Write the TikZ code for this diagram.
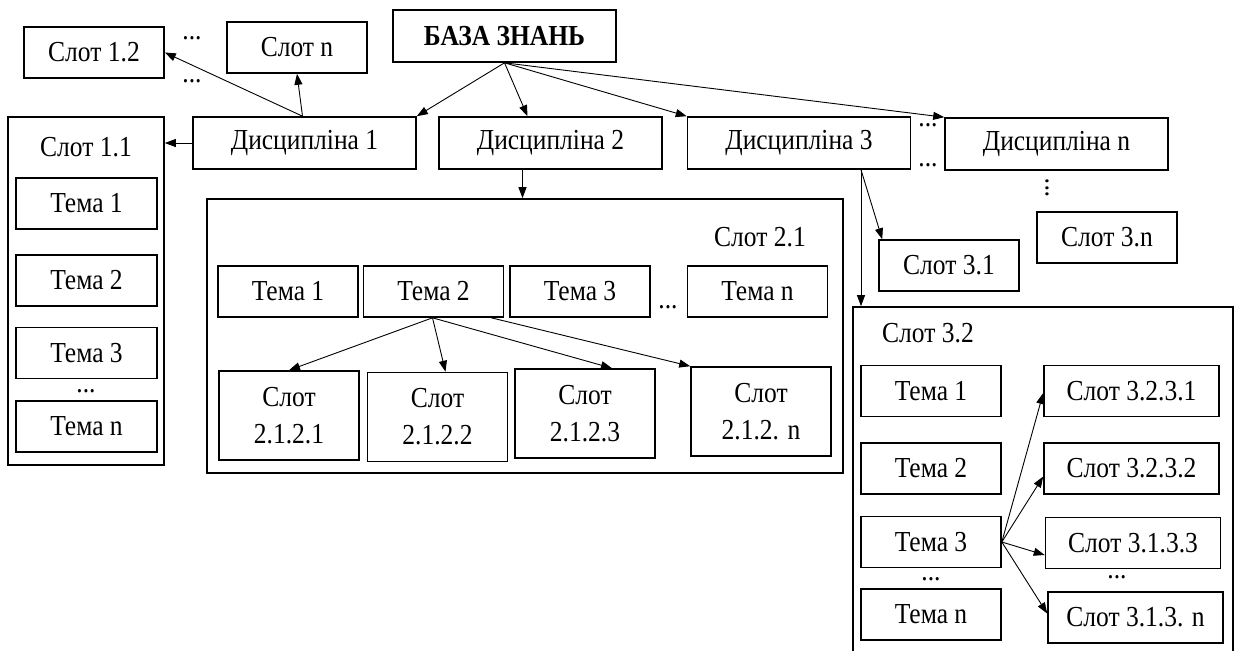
\documentclass[tikz,border=0pt]{standalone}
\usepackage{fontspec}
\setmainfont[FakeStretch=0.88]{Liberation Serif}
\usetikzlibrary{arrows.meta,positioning}

\begin{document}
\begin{tikzpicture}[x=0.5pt,y=-0.5pt,>={Triangle[length=5.5pt,width=4pt]},
  every node/.style={font=\fontsize{14.5}{18.5}\selectfont},
  box/.style={draw,line width=0.8pt,minimum width=70pt,minimum height=25.5pt,inner sep=0pt},
  disc/.style={box,minimum width=111.5pt,minimum height=26pt},
  tall/.style={box,align=center,minimum height=44.5pt},
  wide/.style={box,minimum width=87.5pt},
  frame/.style={draw,line width=0.8pt,inner sep=0pt},
  dots/.style={inner sep=0pt},
  link/.style={->,line width=0.45pt}]
\useasboundingbox (0,0) rectangle (1235,650);
\clip (0,0) rectangle (1235,650);
% top level
\node[disc,font=\fontsize{14.5}{18.5}\selectfont\bfseries](kb) at (504.5,36) {БАЗА ЗНАНЬ};
\node[disc](d1) at (304.5,143) {Дисципліна 1};
\node[disc](d2) at (550.5,143) {Дисципліна 2};
\node[disc](d3) at (799,143) {Дисципліна 3};
\node[disc](dn) at (1056.5,144) {Дисципліна n};
\node[dots](dt1) at (928,125) {...};
\node[dots](dt2) at (928,165) {...};
\draw[link](kb.south)--(d1.north east);
\draw[link](kb.south)--([xshift=-11.5pt]d2.north);
\draw[link](kb.south)--(d3.north west);
\draw[link](kb.south)--(dn.north west);
% discipline 1
\node[box](s12) at (94,52.5) {Слот 1.2};
\node[box](sn) at (297,47.5) {Слот n};
\node[dots](dt3) at (192,38) {...};
\node[dots](dt4) at (192,81) {...};
\node[frame,minimum width=78pt,minimum height=174pt](s11) at (86,291) {};
\node(s11l) at (86,147) {Слот 1.1};
\node[box,minimum width=70.5pt](t11) at (86.5,203.5) {Тема 1};
\node[box,minimum width=70.5pt](t12) at (86.5,280.5) {Тема 2};
\node[box,minimum width=70.5pt](t13) at (86.5,353) {Тема 3};
\node[box,minimum width=70.5pt](t1n) at (86.5,426.5) {Тема n};
\node[dots](dt5) at (86,391) {...};
\draw[link]([xshift=-1pt]d1.north)--(s12.east);
\draw[link]([xshift=-1pt]d1.north)--(sn.south);
\draw[link](d1.west)--(d1.west -| s11.east);
% discipline 2
\node[frame,minimum width=318pt,minimum height=137pt](s21) at (525,336) {};
\node(s21l) at (760,237) {Слот 2.1};
\node[box](t21) at (288,291.5) {Тема 1};
\node[box](t22) at (433.5,291.5) {Тема 2};
\node[box](t23) at (580,291.5) {Тема 3};
\node[box](t2n) at (757.5,291.5) {Тема n};
\node[dots](dt6) at (668,307) {...};
\node[tall](s2121) at (289,415.5) {Слот\\2.1.2.1};
\node[tall](s2122) at (437.5,417) {Слот\\2.1.2.2};
\node[tall](s2123) at (585,413.5) {Слот\\2.1.2.3};
\node[tall](s212n) at (761,411.5) {Слот\\2.1.2. n};
\draw[link]([xshift=-14pt]d2.south)--([xshift=-14pt]d2.south |- s21.north);
\draw[link]([xshift=-0.5pt]t22.south)--(s2121.north);
\draw[link]([xshift=-0.5pt]t22.south)--([xshift=4pt]s2122.north);
\draw[link]([xshift=-0.5pt]t22.south)--([xshift=13.5pt]s2123.north);
\draw[link]([xshift=-6.5pt]t22.south east)--(s212n.north west);
% discipline 3
\node[dots,rotate=90](dt7) at (1047,188) {...};
\node[box](s3n) at (1107,237.5) {Слот 3.n};
\node[box](s31) at (949,265.5) {Слот 3.1};
\node[frame,minimum width=190pt,minimum height=196.5pt](s32) at (1043,503.5) {};
\node(s32l) at (928,333) {Слот 3.2};
\node[box](t31) at (931,391) {Тема 1};
\node[box](t32) at (931,468.5) {Тема 2};
\node[box](t33) at (931,542) {Тема 3};
\node[box](t3n) at (931,614.5) {Тема n};
\node[dots](dt8) at (931,579) {...};
\node[dots](dt9) at (1117,577) {...};
\node[wide](s3231) at (1131.5,391) {Слот 3.2.3.1};
\node[wide](s3232) at (1131.5,468.5) {Слот 3.2.3.2};
\node[wide](s3133) at (1133,543) {Слот 3.1.3.3};
\node[wide](s313n) at (1135.5,617.5) {Слот 3.1.3. n};
\draw[link]([xshift=31pt]d3.south)--([xshift=2pt]s31.north west);
\draw[link]([xshift=31pt]d3.south)--([xshift=31pt]d3.south |- s32.north);
\draw[link](t33.east)--([yshift=-1pt]s3231.west);
\draw[link](t33.east)--([yshift=-4pt]s3232.west);
\draw[link](t33.east)--([yshift=-6pt]s3133.west);
\draw[link](t33.east)--([yshift=2pt]s313n.west);
\end{tikzpicture}
\end{document}
